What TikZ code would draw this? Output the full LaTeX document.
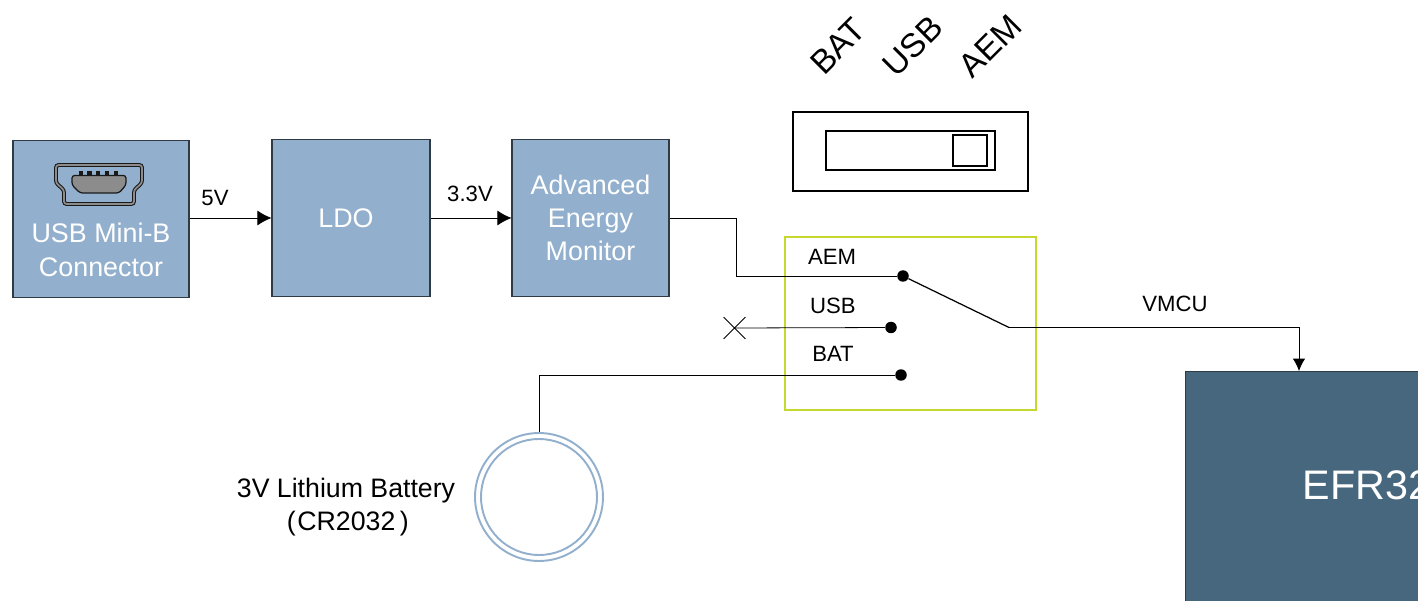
\documentclass[tikz,border=0pt]{standalone}
\usepackage{fontspec}
\setmainfont{Liberation Sans}
\usetikzlibrary{arrows.meta,shapes.misc}
\definecolor{boxblue}{HTML}{92B0CD}
\definecolor{mcublue}{HTML}{46677E}
\definecolor{switchgreen}{HTML}{C5D82E}
\definecolor{boxline}{HTML}{2F3A44}
\tikzset{
	block/.style={draw=boxline, fill=boxblue, line width=0.6pt, minimum width=3.14cm, minimum height=3.14cm, inner sep=0pt, text=white, align=center, font=\fontsize{15.3pt}{19pt}\selectfont},
	blocktext/.style={inner sep=0pt, text=white, align=center, font=\fontsize{15.3pt}{19pt}\selectfont},
	lbl/.style={inner sep=0pt, font=\fontsize{12.6pt}{15pt}\selectfont},
	rlbl/.style={rotate=45, inner sep=0pt, font=\fontsize{19pt}{22pt}\selectfont},
	wire/.style={line width=0.45pt},
	arrow/.style={wire, -{Latex[length=8pt,width=8.5pt]}},
	contact/.style={circle, fill=black, minimum size=0.23cm, inner sep=0pt},
	casing/.style={draw, line width=0.85pt, inner sep=0pt},
	coin/.style={circle, draw=boxblue, line width=1.1pt, inner sep=0pt},
}
\begin{document}
\begin{tikzpicture}[x=0.02cm,y=-0.02cm]
	\useasboundingbox (0,0) rectangle (1418,601);
	\clip (0,0) rectangle (1418,601);

	% Bloecke
	\node[block, minimum width=3.52cm] (usb) at (101,219) {};
	\node[blocktext] (usbtext) at (101,250) {USB Mini-B\\Connector};
	\node[block, minimum width=3.16cm] (ldo) at (351,218) {};
	\node[blocktext] (ldotext) at (346,218.5) {LDO};
	\node[block] (aem) at (590.5,218) {Advanced\\Energy\\Monitor};
	\node[draw=boxline, fill=mcublue, line width=0.6pt, minimum width=7.28cm, minimum height=8cm, inner sep=0pt] (mcu) at (1367,571) {};
	\node[blocktext, font=\fontsize{23.5pt}{28pt}\selectfont] (mcutext) at (1367,485) {EFR32};

	% USB Buchse
	\draw[draw=black!90, double=gray!90, line width=0.6pt, double distance=1pt, rounded corners=1.5pt] (56,165) -- (142,165) -- (142,183) -- (134,190) -- (134,204) -- (64,204) -- (64,190) -- (56,183) -- cycle;
	\draw[draw=black!90, fill=gray!90, line width=0.7pt, rounded corners=1.5pt] (72,175.5) -- (126,175.5) -- (126,185) -- (119,193) -- (80,193) -- (72,185) -- cycle;
	\foreach \x in {81,89.5,98,107,116} {
		\fill[black!90] (\x-2.2,171) rectangle (\x+2.2,176);
	}

	% Spannungen
	\draw[arrow] (usb.east |- 0,218) -- (ldo.west);
	\draw[arrow] (ldo.east) -- (aem.west);
	\node[lbl] (vusb) at (215,198) {5V};
	\node[lbl] (vldo) at (470,193.5) {3.3V};

	% Schalter
	\node[draw=switchgreen, line width=1.2pt, minimum width=5.02cm, minimum height=3.46cm, inner sep=0pt] (sw) at (910.5,323.5) {};
	\node[contact] (dotaem) at (903,276) {};
	\node[contact] (dotusb) at (891,327.5) {};
	\node[contact] (dotbat) at (901,375) {};
	\coordinate (pivot) at (1009,327.5);
	\coordinate (mcuin) at (1299,371);
	\node[cross out, draw, line width=0.5pt, minimum size=0.42cm, inner sep=0pt] (xusb) at (734.5,328) {};
	\node[lbl] (laem) at (832,256.5) {AEM};
	\node[lbl] (lusb) at (833,305.5) {USB};
	\node[lbl] (lbat) at (833,353.5) {BAT};
	\node[lbl] (lvmcu) at (1175,303.5) {VMCU};

	% Batterie
	\node[coin, minimum size=2.56cm] (cell) at (539,497) {};
	\node[coin, minimum size=2.32cm] (cellin) at (539,497) {};
	\node[inner sep=0pt, align=center, font=\fontsize{15.2pt}{19pt}\selectfont] (lcell) at (346,507) {3V Lithium Battery\\\kern2pt(\kern1pt CR2032\,)};

	% Leitungen
	\draw[wire] (aem.east) -- ++(67,0) |- (dotaem);
	\draw[wire] (xusb.center) -- (dotusb);
	\draw[wire] (cell.north) |- (dotbat);
	\draw[line width=0.7pt] (dotaem) -- (pivot);
	\draw[wire, -{Latex[length=7pt,width=7pt]}] (pivot) -| (mcuin);

	% Schiebeschalter
	\node[casing, minimum width=4.7cm, minimum height=1.58cm] (swcase) at (910.5,151.5) {};
	\node[casing, minimum width=3.38cm, minimum height=0.78cm] (swtrack) at (910.5,150.5) {};
	\node[casing, minimum width=0.68cm, minimum height=0.62cm] (swknob) at (970,150.5) {};
	\node[rlbl] (rbat) at (838,46) {BAT};
	\node[rlbl] (rusb) at (913,46) {USB};
	\node[rlbl] (raem) at (990,46) {AEM};
\end{tikzpicture}
\end{document}
